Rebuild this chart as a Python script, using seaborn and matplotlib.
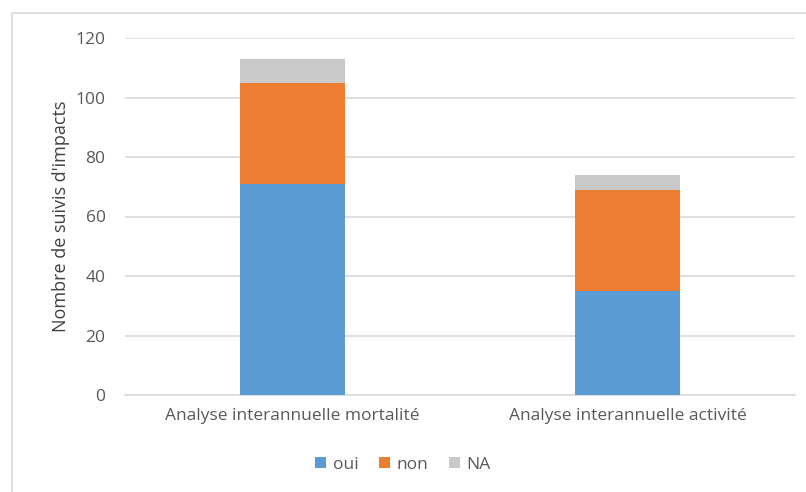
import pandas as pd
import matplotlib
matplotlib.use('Agg')
import matplotlib.pyplot as plt
import seaborn as sns
from matplotlib.patches import Rectangle

categories = ['Analyse interannuelle mortalité', 'Analyse interannuelle activité']
oui = [71, 35]
non = [34, 34]
na  = [8, 5]
series = ['oui', 'non', 'NA']
colors = {'oui': '#5b9bd5', 'non': '#ed7d31', 'NA': '#c9c9c9'}

df = pd.DataFrame({'cat': categories, 'oui': oui, 'non': non, 'NA': na})
# cumulative tops for the stacked look
df['top_oui'] = df['oui']
df['top_non'] = df['oui'] + df['non']
df['top_NA']  = df['oui'] + df['non'] + df['NA']

sns.set_style('white')
plt.rcParams['font.family'] = ['Open Sans', 'DejaVu Sans']

fig = plt.figure(figsize=(8.06, 4.92), dpi=100)
ax = fig.add_axes([125/806, 97/492, 670/806, 357/492])

# draw tallest first so lower segments sit on top
for s in ['NA', 'non', 'oui']:
    sns.barplot(data=df, x='cat', y='top_' + s, color=colors[s], width=0.316,
                ax=ax, saturation=1, zorder=3, label=s, linewidth=0, edgecolor='none')

handles, labels = ax.get_legend_handles_labels()
if ax.get_legend() is not None:
    ax.get_legend().remove()

ax.set_ylim(0, 120)
ax.set_xlim(-0.5, 1.5)
ax.set_yticks(range(0, 121, 20))
ax.yaxis.grid(True, color='#d9d9d9', linewidth=1.2, zorder=0)
ax.set_axisbelow(True)
for sp in ['top', 'right', 'left']:
    ax.spines[sp].set_visible(False)
ax.spines['bottom'].set_color('#d9d9d9')
ax.spines['bottom'].set_linewidth(1.2)
ax.tick_params(axis='both', length=0, colors='#595959', labelsize=12.5)
ax.tick_params(axis='x', pad=9)
ax.tick_params(axis='y', pad=14)
ax.set_xlabel('')
ax.set_ylabel("Nombre de suivis d'impacts", fontsize=13, color='#404040', labelpad=4)

order = [labels.index(s) for s in series]
fig.legend([handles[i] for i in order], series, loc='center', bbox_to_anchor=(0.5, 1 - 465/492),
           ncol=3, frameon=False, fontsize=12.5, handlelength=0.6, handleheight=0.6,
           handletextpad=0.4, columnspacing=1.2, labelcolor='#595959')

fig.patches.append(Rectangle((12/806, -0.1), 1.0, 1 - 13/492 + 0.1, transform=fig.transFigure,
                             fill=False, edgecolor='#d9d9d9', linewidth=1.2))

plt.savefig('out.png', dpi=100)
